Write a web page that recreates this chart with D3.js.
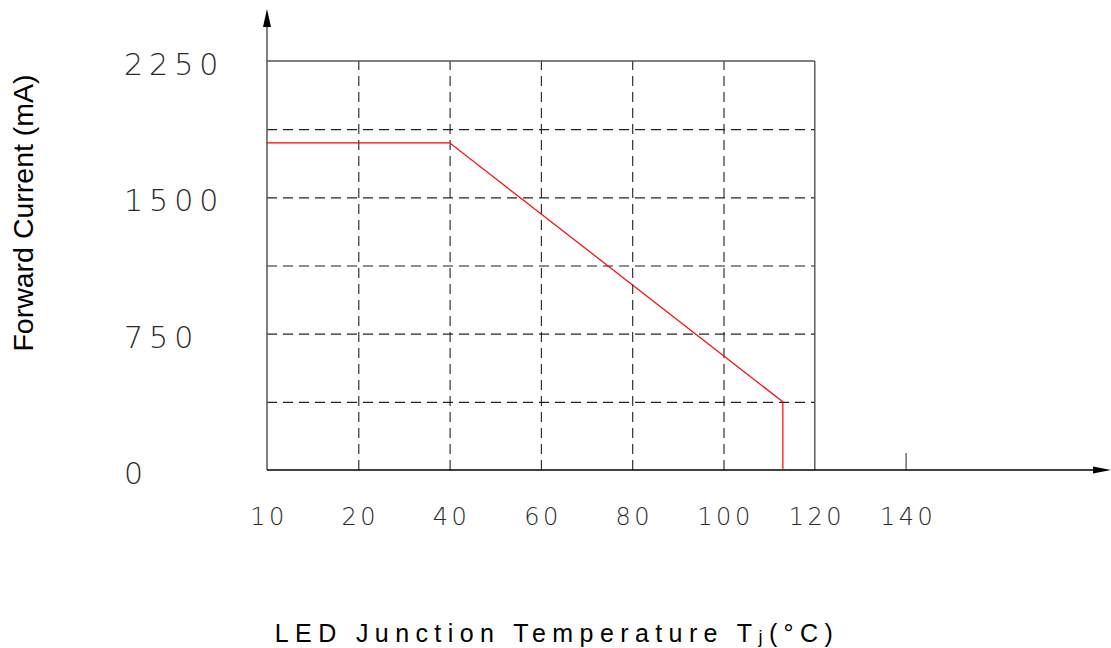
<!DOCTYPE html>
<html><head><meta charset="utf-8">
<script src="https://cdn.jsdelivr.net/npm/d3@7"></script>
<style>
html,body{margin:0;padding:0;background:#fff;}
svg{display:block;}
.tl{font-family:"DejaVu Sans",sans-serif;font-weight:200;fill:#2a2a2a;}
</style></head>
<body>
<svg id="c" width="1111" height="648"></svg>
<script>
// Data
const xTicks = [10, 20, 40, 60, 80, 100, 120, 140];
const yTicks = [0, 750, 1500, 2250];
const yGrid = [375, 750, 1125, 1500, 1875];
const xGrid = [20, 40, 60, 80, 100];
const curveT = [10, 40, 113, 113];
const curveI = [1800, 1800, 375, 0];
const xTitle = "LED Junction Temperature T";
const yTitle = "Forward Current (mA)";

(function () {
const svg = d3.select("#c");
const pLeft = 267, pTop = 61, pBottom = 470, step = 91.3;
const x = d3.scaleLinear().domain(xTicks).range(xTicks.map((d, i) => pLeft + i * step));
const y = d3.scaleLinear().domain([0, 2250]).range([pBottom, pTop]);
const xMax = 120;

// dashed gridlines
const gx = svg.append("g").attr("transform", `translate(0,${pBottom})`)
  .call(d3.axisBottom(x).tickValues(xGrid).tickSize(-(pBottom - pTop)).tickFormat(""));
gx.select(".domain").remove();
gx.selectAll("line").attr("stroke", "#222").attr("stroke-dasharray", "10,6").attr("stroke-width", 1.1);

const gy = svg.append("g").attr("transform", `translate(${pLeft},0)`)
  .call(d3.axisLeft(y).tickValues(yGrid).tickSize(-(x(xMax) - pLeft)).tickFormat(""));
gy.select(".domain").remove();
gy.selectAll("line").attr("stroke", "#222").attr("stroke-dasharray", "10,6").attr("stroke-width", 1.1);

// box top and right
svg.append("line").attr("x1", pLeft).attr("x2", x(xMax)).attr("y1", y(2250)).attr("y2", y(2250))
  .attr("stroke", "#555").attr("stroke-width", 1.5);
svg.append("line").attr("x1", x(xMax)).attr("x2", x(xMax)).attr("y1", y(2250)).attr("y2", y(0))
  .attr("stroke", "#444").attr("stroke-width", 1.3);

// tick at 140
svg.append("line").attr("x1", x(140)).attr("x2", x(140)).attr("y1", y(0) - 17).attr("y2", y(0))
  .attr("stroke", "#555").attr("stroke-width", 1.3);

// axes with arrows
svg.append("line").attr("x1", pLeft).attr("x2", pLeft).attr("y1", pBottom).attr("y2", 22)
  .attr("stroke", "#555").attr("stroke-width", 1.5);
svg.append("path").attr("d", `M${pLeft},9 L${pLeft - 4},27 L${pLeft + 4},27 Z`).attr("fill", "#000");
svg.append("line").attr("x1", pLeft).attr("x2", 1095).attr("y1", pBottom).attr("y2", pBottom)
  .attr("stroke", "#000").attr("stroke-width", 1.5);
svg.append("path").attr("d", `M1111,${pBottom} L1093,${pBottom - 3.5} L1093,${pBottom + 3.5} Z`).attr("fill", "#000");

// curve
const line = d3.line().x(d => x(d[0])).y(d => y(d[1]));
svg.append("path").datum(curveT.map((t, i) => [t, curveI[i]]))
  .attr("d", line).attr("fill", "none").attr("stroke", "#ff0000").attr("stroke-width", 1.2);

// tick labels
svg.append("g").selectAll("text").data(xTicks).join("text")
  .attr("class", "tl").attr("x", d => x(d) + 2).attr("y", 525)
  .attr("text-anchor", "middle").attr("font-size", 24).attr("letter-spacing", 3.5)
  .text(d => d);
svg.append("g").selectAll("text").data(yTicks).join("text")
  .attr("class", "tl").attr("x", 124).attr("y", d => y(d) + 14)
  .attr("font-size", 30).attr("letter-spacing", 6)
  .text(d => d);

// titles
const t = svg.append("text").attr("x", 557).attr("y", 642).attr("text-anchor", "middle")
  .attr("font-family", "Liberation Sans, Arial, sans-serif").attr("font-size", 25)
  .attr("letter-spacing", 6.4).attr("fill", "#000");
t.append("tspan").text(xTitle);
t.append("tspan").attr("font-size", 18).attr("dy", 1).text("j");
t.append("tspan").attr("dy", -1).text("(°C)");

svg.append("text").attr("transform", "translate(33,213) rotate(-90)")
  .attr("text-anchor", "middle").attr("font-family", "Liberation Sans, Arial, sans-serif")
  .attr("font-size", 28.5).attr("fill", "#000").text(yTitle);
})();
</script>
</body></html>
